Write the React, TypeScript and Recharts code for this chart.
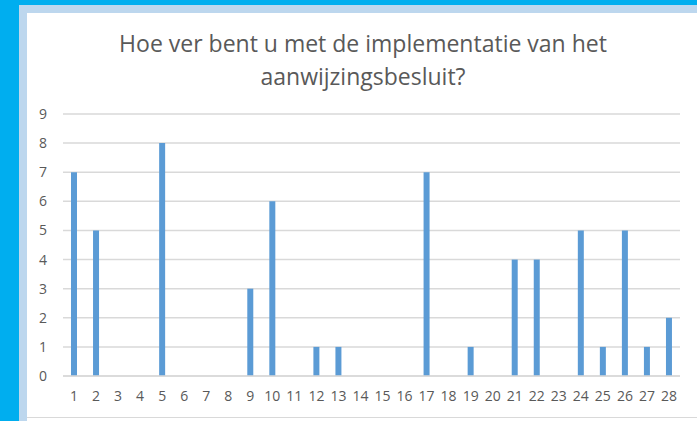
import { BarChart, Bar, XAxis, YAxis, CartesianGrid } from "recharts";

const categorieen = [
  "1", "2", "3", "4", "5", "6", "7", "8", "9", "10", "11", "12", "13", "14",
  "15", "16", "17", "18", "19", "20", "21", "22", "23", "24", "25", "26", "27", "28",
];
const aantallen = [7, 5, 0, 0, 8, 0, 0, 0, 3, 6, 0, 1, 1, 0, 0, 0, 7, 0, 1, 0, 4, 4, 0, 5, 1, 5, 1, 2];
const yTicks = [0, 1, 2, 3, 4, 5, 6, 7, 8, 9];

const titelRegels = [
  "Hoe ver bent u met de implementatie van het",
  "aanwijzingsbesluit?",
];

const data = categorieen.map((c, i) => ({ categorie: c, aantal: aantallen[i] }));

const tekstKleur = "#595959";
const font = "'Open Sans', 'Noto Sans', sans-serif";

export default function App() {
  return (
    <div
      style={{
        position: "absolute",
        left: 0,
        top: 0,
        width: 697,
        height: 421,
        background: "#00AEEF",
        overflow: "hidden",
        fontFamily: font,
      }}
    >
      {/* lichte rand */}
      <div
        style={{
          position: "absolute",
          left: 19,
          top: 5,
          right: 0,
          bottom: 0,
          background: "#BDD7EE",
        }}
      />
      {/* wit grafiekvlak */}
      <div
        style={{
          position: "absolute",
          left: 27,
          top: 13,
          right: 0,
          bottom: 0,
          background: "#ffffff",
        }}
      />
      <div
        style={{
          position: "absolute",
          left: 27,
          top: 417,
          right: 0,
          height: 1,
          background: "#d9d9d9",
        }}
      />

      <div
        style={{
          position: "absolute",
          left: 0,
          top: 27,
          width: 726,
          textAlign: "center",
          color: tekstKleur,
          fontSize: 23,
          lineHeight: "33px",
        }}
      >
        {titelRegels.map((r) => (
          <div key={r}>{r}</div>
        ))}
      </div>

      <div style={{ position: "absolute", left: 0, top: 0 }}>
        <BarChart
          width={697}
          height={421}
          data={data}
          margin={{ top: 114, right: 17, left: 27, bottom: 15 }}
        >
          <CartesianGrid vertical={false} stroke="#d9d9d9" strokeWidth={1.5} />
          <XAxis
            dataKey="categorie"
            height={30}
            axisLine={{ stroke: "#d9d9d9", strokeWidth: 1.5 }}
            tickLine={false}
            tickSize={0}
            tickMargin={15}
            interval={0}
            tick={{ fill: tekstKleur, fontSize: 14, fontFamily: font }}
          />
          <YAxis
            width={36}
            domain={[0, 9]}
            ticks={yTicks}
            axisLine={false}
            tickLine={false}
            tickSize={0}
            tickMargin={16}
            tick={{ fill: tekstKleur, fontSize: 14, fontFamily: font }}
          />
          <Bar dataKey="aantal" fill="#5B9BD5" barSize={6} isAnimationActive={false} />
        </BarChart>
      </div>
    </div>
  );
}
